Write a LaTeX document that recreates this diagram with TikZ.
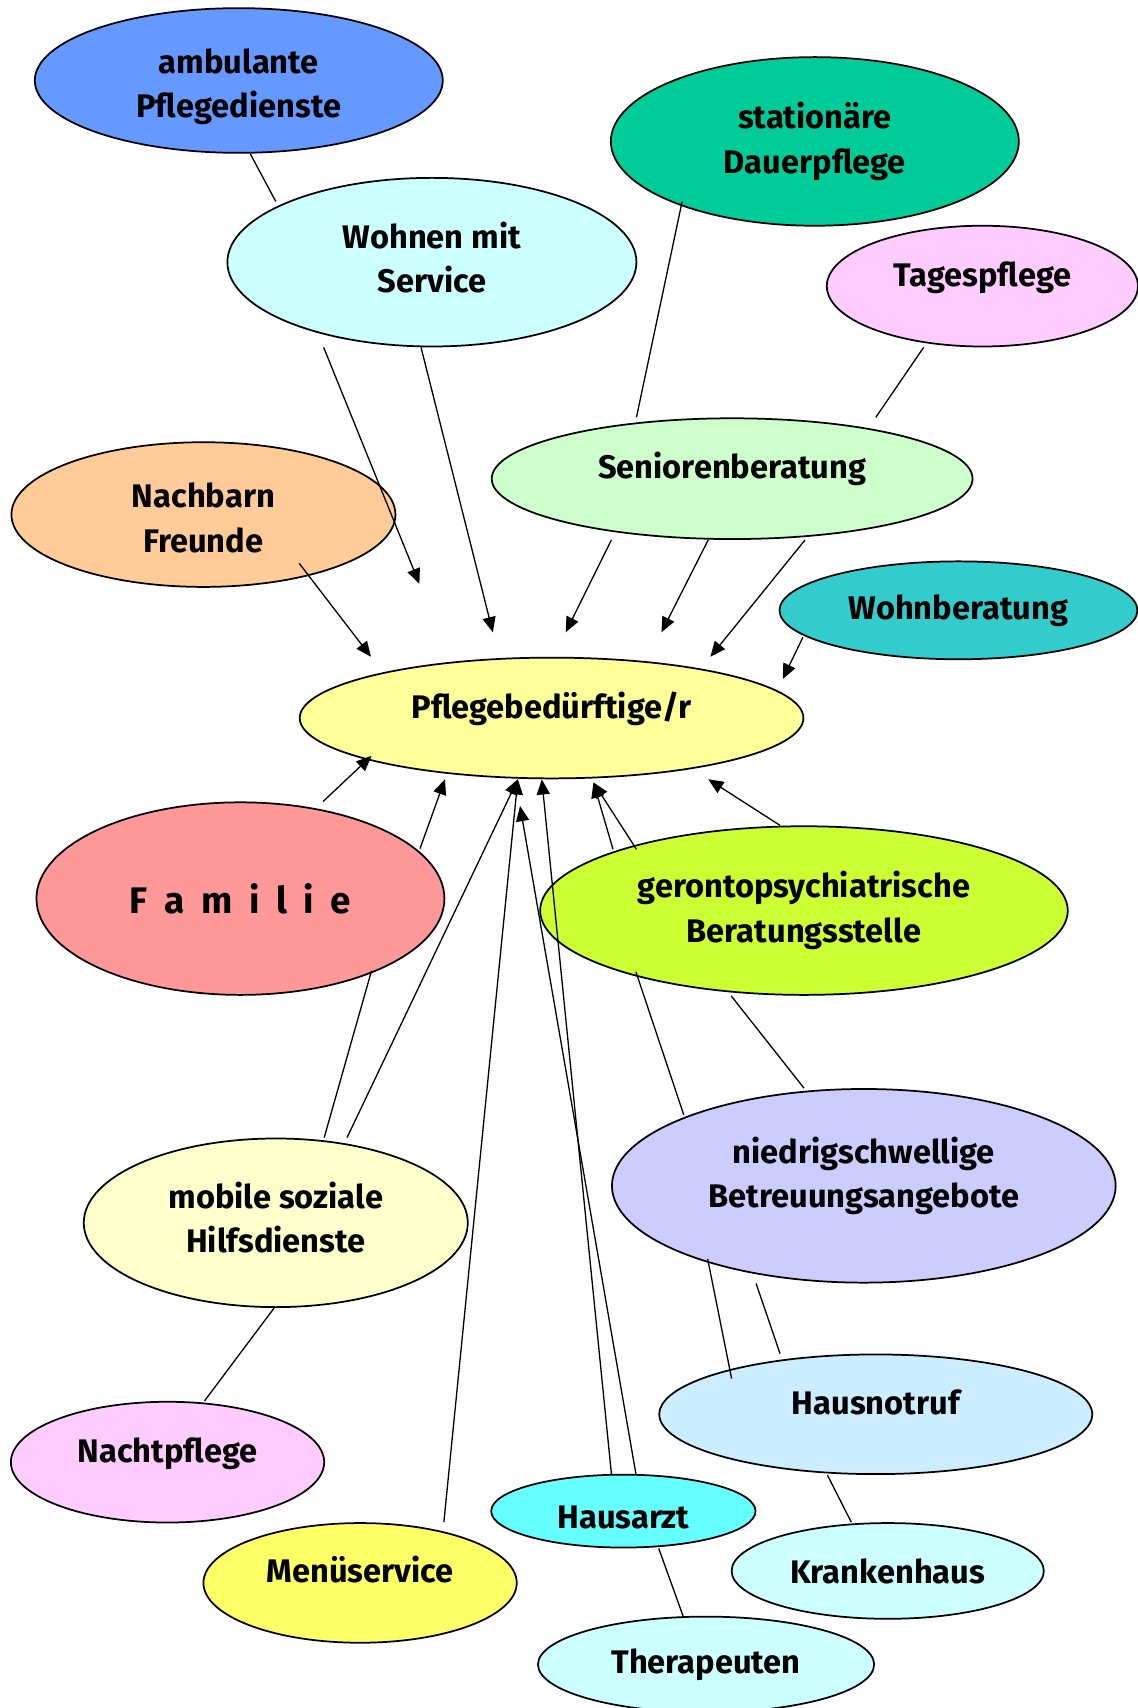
\documentclass[tikz,border=0pt]{standalone}
\usepackage{fontspec}
\setmainfont{Fira Sans}
\usetikzlibrary{arrows.meta,shapes.geometric}
\definecolor{ambBlue}{HTML}{6699FF}
\definecolor{staGreen}{HTML}{00CC99}
\definecolor{paleCyan}{HTML}{CCFFFF}
\definecolor{palePink}{HTML}{FFCCFF}
\definecolor{nacOrange}{HTML}{FFCC99}
\definecolor{senGreen}{HTML}{CCFFCC}
\definecolor{wbeTeal}{HTML}{33CCCC}
\definecolor{pflYellow}{HTML}{FFFF99}
\definecolor{famRed}{HTML}{FF9999}
\definecolor{gerLime}{HTML}{CCFF33}
\definecolor{nieLilac}{HTML}{CCCCFF}
\definecolor{mobCream}{HTML}{FFFFCC}
\definecolor{hnoBlue}{HTML}{CCECFF}
\definecolor{arzCyan}{HTML}{66FFFF}
\definecolor{menYellow}{HTML}{FFFF66}
\newcommand\widespaces{\spaceskip=0.45em\relax}
\newcommand\tall[1]{\rule{0pt}{#1}}
\begin{document}
\begin{tikzpicture}[x=1pt,y=-1pt,
            blob/.style={ellipse, draw, line width=1.6pt, inner sep=0pt, align=center,
                font=\fontsize{30}{41}\selectfont\bfseries},
            lift/.style={text height=14pt, text depth=14pt},
            textdown/.style={execute at begin node={\rule{0pt}{#1}}},
            textup/.style={execute at end node={\rule[-#1]{0pt}{0pt}}},
            link/.style={line width=1.2pt},
            feed/.style={link, -{Triangle[length=14pt,width=12pt]}}]
            \useasboundingbox (0,0) rectangle (1046,1570);
            \node[blob, fill=ambBlue, minimum width=375pt, minimum height=133pt] (amb) at (219.5,74) {\tall{34pt}ambulante\\Pflegedienste};
            \node[blob, fill=staGreen, minimum width=375pt, minimum height=155pt] (sta) at (749,130) {stationäre\\Dauerpflege};
            \node[blob, textup=9pt, fill=paleCyan, minimum width=376pt, minimum height=155pt] (woh) at (397,241) {Wohnen mit\\Service};
            \node[blob, lift, fill=palePink, minimum width=286pt, minimum height=111pt] (tag) at (903,263) {Tagespflege};
            \node[blob, fill=nacOrange, minimum width=353pt, minimum height=133pt] (nac) at (187,473) {\tall{29pt}Nachbarn\\Freunde};
            \node[blob, lift, fill=senGreen, minimum width=442pt, minimum height=111pt] (sen) at (673,440) {Seniorenberatung};
            \node[blob, fill=wbeTeal, minimum width=329pt, minimum height=90pt] (wbe) at (881,561) {Wohnberatung};
            \node[blob, lift, fill=pflYellow, minimum width=463pt, minimum height=111pt] (pfl) at (507,660) {Pflegebedürftige/r};
            \node[blob, fill=famRed, minimum width=375pt, minimum height=177pt,
                font=\fontsize{34}{40}\selectfont\bfseries] (fam) at (221,826) {\widespaces F a m i l i e};
            \node[blob, fill=gerLime, minimum width=485pt, minimum height=155pt] (ger) at (739,837) {gerontopsychiatrische\\Beratungsstelle};
            \node[blob, textup=25pt, fill=nieLilac, minimum width=463pt, minimum height=178pt] (nie) at (794,1090) {niedrigschwellige\\Betreuungsangebote};
            \node[blob, textup=10pt, fill=mobCream, minimum width=353pt, minimum height=155pt] (mob) at (253.5,1124) {mobile soziale\\Hilfsdienste};
            \node[blob, lift, fill=hnoBlue, minimum width=398pt, minimum height=110pt] (hno) at (805,1300) {Hausnotruf};
            \node[blob, lift, fill=palePink, minimum width=288pt, minimum height=111pt] (nap) at (154,1344) {Nachtpflege};
            \node[blob, textdown=32pt, fill=arzCyan, minimum width=243pt, minimum height=67pt] (arz) at (573,1389) {Hausarzt};
            \node[blob, lift, fill=menYellow, minimum width=288pt, minimum height=110pt] (men) at (331,1455) {Menüservice};
            \node[blob, fill=paleCyan, minimum width=287pt, minimum height=88pt] (kra) at (816,1444) {Krankenhaus};
            \node[blob, fill=paleCyan, minimum width=309pt, minimum height=88pt] (the) at (649,1530) {Therapeuten};
            \draw[link] ([xshift=10.5pt]amb.south) -- ([xshift=-143.5pt,yshift=-22.5pt]woh.north);
            \draw[feed] ([xshift=-99.5pt]woh.south) -- ([xshift=-121.5pt,yshift=67pt]pfl.north);
            \draw[feed] ([xshift=-10pt]woh.south) -- ([xshift=-54pt,yshift=22.5pt]pfl.north);
            \draw[feed] ([xshift=88pt,yshift=22.5pt]nac.south) -- ([xshift=-166pt]pfl.north);
            \draw[link] ([xshift=-122pt,yshift=23pt]sta.south) -- ([xshift=-88pt]sen.north);
            \draw[link] ([xshift=-54pt]tag.south) -- ([xshift=132pt]sen.north);
            \draw[feed] ([xshift=-111pt]sen.south) -- ([xshift=13pt,yshift=22.5pt]pfl.north);
            \draw[feed] ([xshift=-22pt]sen.south) -- ([xshift=101pt,yshift=22.5pt]pfl.north);
            \draw[feed] ([xshift=67pt]sen.south) -- ([xshift=146pt]pfl.north);
            \draw[feed] ([xshift=-143pt,yshift=21pt]wbe.south) -- ([xshift=212.5pt,yshift=-20.5pt]pfl.north);
            \draw[feed] ([xshift=76pt]fam.north) -- ([xshift=-165.5pt,yshift=21.5pt]pfl.south);
            \draw[feed] ([xshift=165pt,yshift=-43.5pt]fam.north) -- ([xshift=-98pt]pfl.south);
            \draw[link] ([xshift=44.5pt]mob.north) -- ([xshift=120.5pt,yshift=23pt]fam.south);
            \draw[feed] ([xshift=65.5pt]mob.north) -- ([xshift=-31pt]pfl.south);
            \draw[feed] ([xshift=77pt]men.north) -- ([xshift=-31pt]pfl.south);
            \draw[feed] ([xshift=-11pt]arz.north) -- ([xshift=-9pt]pfl.south);
            \draw[feed] ([xshift=11.5pt]arz.north) -- ([xshift=-29pt,yshift=-24.5pt]pfl.south);
            \draw[link] ([xshift=-165.5pt,yshift=-24.5pt]nie.north) -- ([xshift=-154.5pt,yshift=22pt]ger.south);
            \draw[feed] ([xshift=-175.5pt,yshift=-22pt]ger.north) -- ([xshift=38.5pt,yshift=-3pt]pfl.south);
            \draw[feed] ([xshift=-154pt,yshift=-22pt]ger.north) -- ([xshift=38.5pt,yshift=-3pt]pfl.south);
            \draw[feed] ([xshift=-22pt]ger.north) -- ([xshift=144pt]pfl.south);
            \draw[link] ([xshift=-67pt]ger.south) -- ([xshift=-55pt]nie.north);
            \draw[link] ([xshift=-143.5pt,yshift=22.5pt]nie.south) -- ([xshift=-132.5pt,yshift=-23pt]hno.north);
            \draw[link] ([xshift=-99pt]nie.south) -- ([xshift=-88pt]hno.north);
            \draw[link] ([xshift=-44.5pt]hno.south) -- ([xshift=-33.5pt]kra.north);
            \draw[link] ([xshift=32.5pt]arz.south) -- ([xshift=-20.5pt,yshift=-2pt]the.north);
            \draw[link] ([xshift=-1.5pt]mob.south) -- ([xshift=34pt]nap.north);
        \end{tikzpicture}
\end{document}
